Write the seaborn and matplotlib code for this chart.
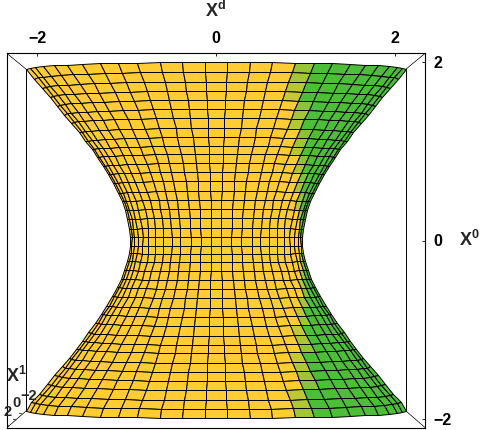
import numpy as np
import seaborn as sns
import matplotlib.pyplot as plt

sns.set_style("white")
plt.rcParams['font.family'] = ['Liberation Sans', 'DejaVu Sans']
plt.rcParams['mathtext.fontset'] = 'custom'
plt.rcParams['mathtext.bf'] = 'Liberation Sans:bold'

# mesh rows: height at the front of the surface,
# height at the silhouette, half width of the row
row_front = [2.00, 1.89, 1.78, 1.675, 1.574, 1.473, 1.373, 1.261, 1.16, 1.059,
             0.969, 0.868, 0.768, 0.667, 0.555, 0.454, 0.353, 0.252, 0.14, 0.039,
             -0.062, -0.151, -0.241, -0.342, -0.443, -0.543, -0.644, -0.756, -0.857, -0.958,
             -1.07, -1.171, -1.261, -1.373, -1.473, -1.574, -1.675, -1.787, -1.888, -1.989]
row_edge = [1.92, 1.81, 1.71, 1.61, 1.51, 1.41, 1.32, 1.21, 1.11, 1.02,
            0.93, 0.83, 0.74, 0.64, 0.53, 0.44, 0.34, 0.24, 0.13, 0.04,
            -0.06, -0.14, -0.23, -0.33, -0.43, -0.52, -0.62, -0.73, -0.82, -0.92,
            -1.03, -1.12, -1.21, -1.32, -1.41, -1.51, -1.61, -1.72, -1.81, -1.91]
row_width = [2.13, 2.037, 1.946, 1.86, 1.779, 1.699, 1.621, 1.537, 1.463, 1.393,
             1.333, 1.268, 1.209, 1.153, 1.099, 1.056, 1.021, 0.993, 0.973, 0.965,
             0.966, 0.975, 0.992, 1.026, 1.063, 1.11, 1.162, 1.228, 1.29, 1.353,
             1.43, 1.502, 1.57, 1.652, 1.73, 1.81, 1.89, 1.985, 2.07, 2.13]

# mesh columns: position across the row (0 centre, 1 silhouette), how far it bulges
col_frac = [-1.0, -0.98, -0.953, -0.91, -0.853, -0.784, -0.705, -0.61, -0.516, -0.416, -0.295, -0.179, -0.058,
            0.058, 0.179, 0.295, 0.416, 0.516, 0.61, 0.705, 0.784, 0.853, 0.91, 0.953, 0.98, 1.0]
col_bulge = [0.0, 0.199, 0.303, 0.415, 0.522, 0.621, 0.709, 0.792, 0.857, 0.909, 0.955, 0.984, 0.998,
             0.998, 0.984, 0.955, 0.909, 0.857, 0.792, 0.709, 0.621, 0.522, 0.415, 0.303, 0.199, 0.0]

# box
frame_x = 2.347
frame_y = 2.10
back_x = 2.129
back_top = 1.92
back_bottom = -1.91
ticks = [-2, 0, 2]
tick_labels = ['\u22122', '0', '2']
x1_tick_x = [-2.319, -2.241, -2.174]
x1_tick_y = [-2.078, -2.011, -1.944]

YELLOW = np.array([255, 204, 51]) / 255
GREEN = np.array([77, 190, 56]) / 255
GREEN_FROM = 0.95  # colour changes at this x

front = np.array(row_front)[:, None]
edge = np.array(row_edge)[:, None]
width = np.array(row_width)[:, None]
frac = np.array(col_frac)[None, :]
bulge = np.array(col_bulge)[None, :]

X = width * frac
Y = edge + (front - edge) * bulge

left = X[:-1, :-1]
right = X[:-1, 1:]
t = np.where(left >= GREEN_FROM, 1.0, 0.0)
across = (right > GREEN_FROM) & (left < GREEN_FROM)
t = np.where(across, 0.3 + 0.4 * (right - GREEN_FROM) / (right - left), t)
colors = YELLOW * (1 - t[..., None]) + GREEN * t[..., None]

fig = plt.figure(figsize=(4.81, 4.30), dpi=100)
ax = fig.add_axes([6.5 / 481, 2 / 430, 419 / 481, 375 / 430])


def line(xs, ys, lw=0.7):
    sns.lineplot(x=xs, y=ys, sort=False, estimator=None, color='black',
                 linewidth=lw, ax=ax)


# back edges and corner diagonals, behind the surface
line([-back_x, -back_x], [back_bottom, back_top])
line([back_x, back_x], [back_bottom, back_top])
line([-frame_x, -back_x], [frame_y, back_top], 0.5)
line([frame_x, back_x], [frame_y, back_top], 0.5)
line([-frame_x, -back_x], [-frame_y, back_bottom], 0.5)
line([frame_x, back_x], [-frame_y, back_bottom], 0.5)
for tx, ty in zip(x1_tick_x, x1_tick_y):
    line([tx, tx - 0.03], [ty, ty + 0.01], 0.5)

ax.pcolormesh(X, Y, colors, edgecolors='black', linewidth=0.7, antialiased=True, zorder=3)

ax.set_xlim(-frame_x, frame_x)
ax.set_ylim(-frame_y, frame_y)
ax.set_xticks(ticks, tick_labels)
ax.set_yticks(ticks, tick_labels)
ax.xaxis.tick_top()
ax.yaxis.tick_right()
ax.tick_params(axis='both', direction='in', length=2, width=0.6, color='black', labelsize=11.5, labelcolor='black')
ax.tick_params(axis='x', pad=5)
ax.tick_params(axis='y', pad=6)
for lab in ax.get_xticklabels() + ax.get_yticklabels():
    lab.set_fontweight('bold')
for sp in ax.spines.values():
    sp.set_visible(True)
    sp.set_linewidth(0.8)
    sp.set_color('black')

# axis names and the x1 scale sit in figure pixels
def px(x, y, s, size=11.5):
    fig.text(x / 481, 1 - y / 430, s, fontsize=size, fontweight='bold', ha='center', va='center')


px(216, 11, r'$\mathbf{X^{d}}$', 13)
px(469, 240, r'$\mathbf{X^{0}}$', 13)
px(16, 376, r'$\mathbf{X^{1}}$', 13)
px(7.5, 412, '2', 10.5)
px(16.5, 403, '0', 10.5)
px(28.5, 396, '\u22122', 10.5)

fig.savefig('out.png', dpi=100)
